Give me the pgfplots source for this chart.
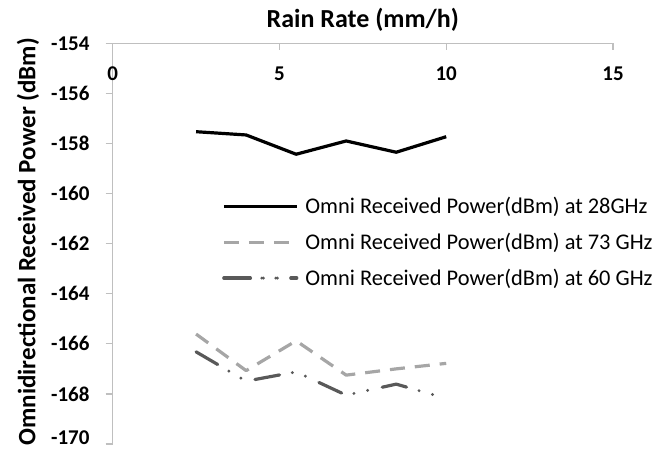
\documentclass[border=0pt]{standalone}
\usepackage{pgfplots}
\pgfplotsset{compat=1.18}
\usepackage{fontspec}
\setmainfont{Carlito}
\definecolor{cA}{HTML}{A6A6A6}
\definecolor{cB}{HTML}{595959}
\definecolor{axc}{HTML}{BFBFBF}
\pgfplotsset{shortleg/.style={legend image code/.code={\path (0pt,0pt) -- (73pt,0pt); \draw[##1] (1.6pt,0pt) -- (62pt,0pt);}}}
\begin{document}
\begin{tikzpicture}
\useasboundingbox (-112.7pt,-9pt) rectangle (541.3pt,444pt);
\begin{axis}[
  at={(0,0)}, anchor=south west,
  scale only axis, width=500.3pt, height=400.7pt,
  xmin=0, xmax=15, ymin=-170, ymax=-154,
  axis x line=top, axis y line=left,
  axis line style={-, draw=axc, line width=1.3pt},
  xtick={0,5,10,15}, ytick={-170,-168,...,-154},
  xtick align=inside, ytick align=outside,
  major tick length=7pt,
  tick style={draw=axc, line width=1.3pt},
  /pgf/number format/assume math mode=true,
  ticklabel style={font=\fontsize{21}{25}\selectfont\bfseries},
  xticklabel style={anchor=north, inner sep=0pt, yshift=-23pt},
  yticklabel style={anchor=east, inner sep=0pt, xshift=-16pt},
  yticklabel={\ifnum\ticknum=0 \raisebox{6pt}[\height][\depth]{\pgfmathprintnumber{\tick}}\else\pgfmathprintnumber{\tick}\fi},
  xlabel={Rain Rate (mm/h)},
  ylabel={Omnidirectional Received Power (dBm)},
  xlabel style={at={([yshift=23pt]axis description cs:0.5,1)}, anchor=center, inner sep=0pt, font=\fontsize{26}{30}\selectfont\bfseries},
  ylabel style={at={([xshift=-84.7pt, yshift=2pt]axis description cs:0,0.5)}, anchor=center, inner sep=0pt, font=\fontsize{25}{29}\selectfont\bfseries},
  legend style={draw=none, fill=none, at={(axis description cs:0.2185,0.616)}, anchor=north west, inner sep=0pt, row sep=18pt, font=\fontsize{22.4}{26}\selectfont, nodes={inner sep=0pt}},
  legend cell align=left,
  legend image code/.code={\draw[#1] (0pt,0pt) -- (73pt,0pt);},
  /tikz/every odd column/.append style={column sep=7pt},
]
\addplot[black, line width=3.2pt, line join=round] coordinates {(2.5,-157.53) (4,-157.66) (5.5,-158.43) (7,-157.90) (8.5,-158.35) (10,-157.73)};
\addlegendentry{Omni Received Power(dBm) at 28GHz}
\addplot[cA, line width=3.2pt, line join=round, dash pattern=on 15pt off 10pt] coordinates {(2.5,-165.61) (4,-167.07) (5.5,-165.88) (7,-167.25) (8.5,-167.00) (10,-166.78)};
\addlegendentry{Omni Received Power(dBm) at 73 GHz}
\addplot[cB, line width=3.2pt, line join=round, line cap=round, dash pattern=on 25pt off 13pt on 0pt off 14pt on 0pt off 15pt, shortleg] coordinates {(2.5,-166.32) (4,-167.49) (5.5,-167.12) (7,-168.05) (8.5,-167.61) (10,-168.18)};
\addlegendentry{Omni Received Power(dBm) at 60 GHz}
\end{axis}
\end{tikzpicture}
\end{document}
